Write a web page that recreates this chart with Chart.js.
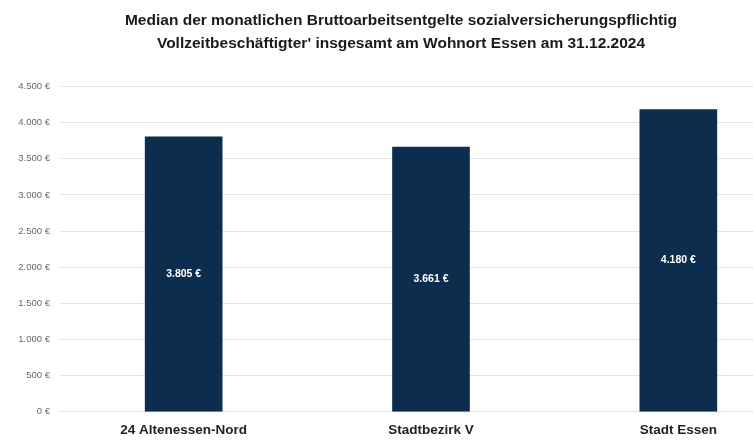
<!DOCTYPE html>
<html>
<head>
<meta charset="utf-8">
<script src="https://cdn.jsdelivr.net/npm/chart.js@4"></script>
<style>
  html, body { margin: 0; padding: 0; background: #fff; overflow: hidden; }
  #wrap { width: 753px; height: 440px; overflow: hidden; }
</style>
</head>
<body>
<div id="wrap"><canvas id="myChart" width="806" height="440"></canvas></div>
<script>
const labels = ['24 Altenessen-Nord', 'Stadtbezirk V', 'Stadt Essen'];
const median = [3805, 3661, 4180];
const titleLines = [
    'Median der monatlichen Bruttoarbeitsentgelte sozialversicherungspflichtig',
    "Vollzeitbeschäftigter' insgesamt am Wohnort Essen am 31.12.2024"
];

// 4500 -> "4.500 €"
function euro(v) {
    return String(v).replace(/\B(?=(\d{3})+(?!\d))/g, '.') + ' €';
}

// white value text in the middle of each bar
const barValues = {
    id: 'barValues',
    afterDatasetsDraw(chart) {
        const ctx = chart.ctx;
        const meta = chart.getDatasetMeta(0);
        ctx.save();
        ctx.fillStyle = '#ffffff';
        ctx.font = 'bold 10.5px "Liberation Sans", Arial, sans-serif';
        ctx.textAlign = 'center';
        ctx.textBaseline = 'middle';
        meta.data.forEach((bar, i) => {
            ctx.fillText(euro(median[i]), bar.x, (bar.y + bar.base) / 2);
        });
        ctx.restore();
    }
};

const config = {
    type: 'bar',
    data: {
        labels: labels,
        datasets: [{
            data: median,
            backgroundColor: '#0c2d4e',
            barThickness: 77
        }]
    },
    options: {
        responsive: false,
        animation: false,
        layout: { padding: { top: 9, right: 4, left: 0, bottom: 0 } },
        plugins: {
            legend: { display: false },
            tooltip: { enabled: false },
            title: {
                display: true,
                text: titleLines,
                color: '#1a1a1a',
                font: { family: '"Liberation Sans", Arial, sans-serif', size: 15.5, weight: 'bold', lineHeight: 1.5 },
                padding: { top: 0, bottom: 31 }
            }
        },
        scales: {
            x: {
                grid: { display: false },
                border: { display: false },
                ticks: {
                    color: '#222',
                    padding: 2,
                    font: { family: '"Liberation Sans", Arial, sans-serif', size: 13.5, weight: 'bold' }
                }
            },
            y: {
                min: 0,
                max: 4500,
                afterFit(scale) { scale.width = 60; },
                grid: { color: '#e4e4e4', drawTicks: false },
                border: { display: false },
                ticks: {
                    stepSize: 500,
                    padding: 10,
                    color: '#666',
                    font: { family: '"Liberation Sans", Arial, sans-serif', size: 9.5 },
                    callback: v => euro(v)
                }
            }
        }
    },
    plugins: [barValues]
};

const myChart = new Chart(document.getElementById('myChart'), config);
</script>
</body>
</html>
